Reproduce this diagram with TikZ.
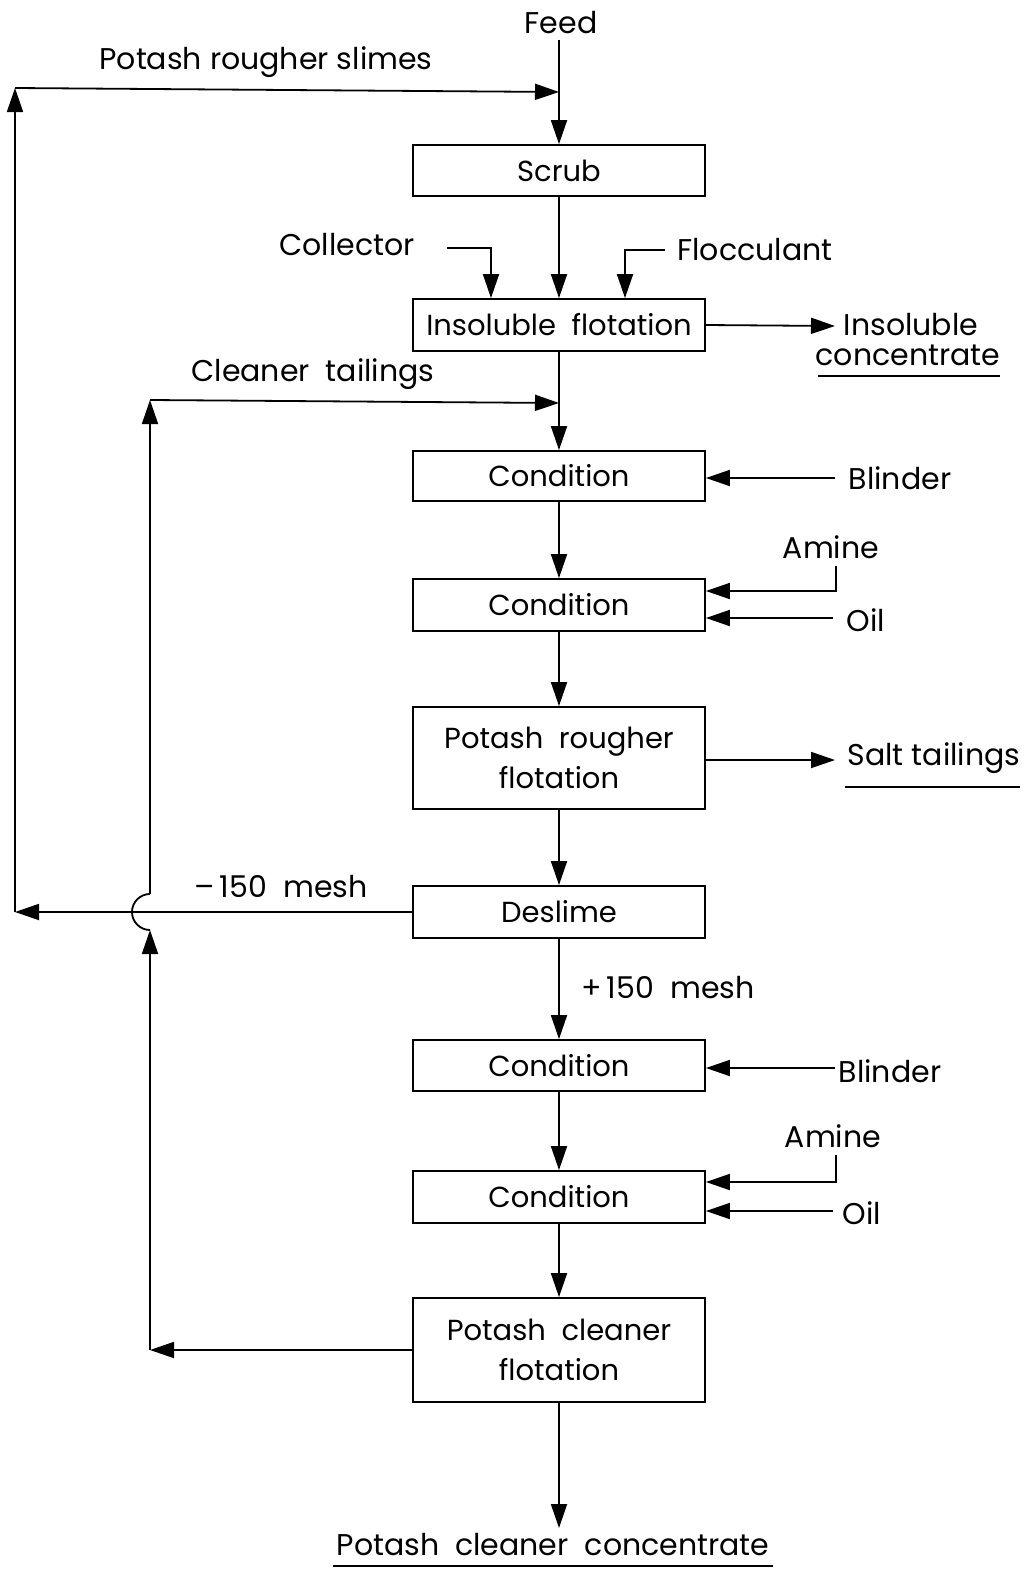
\documentclass[tikz,border=0pt]{standalone}
\usepackage{fontspec}
\setmainfont{Poppins}
\usetikzlibrary{arrows.meta}
\begin{document}
\begin{tikzpicture}[x=1pt,y=-1pt,
  line width=1.8pt,
  box/.style={draw,rectangle,minimum width=292pt,inner sep=0pt,align=center,font=\fontsize{29}{40}\selectfont},
  lbl/.style={inner sep=0pt,font=\fontsize{30}{36}\selectfont},
  arr/.style={-{Triangle[length=24pt,width=16pt]}},
]
\useasboundingbox (0,0) rectangle (1032,1569);
% boxes
\node[box,minimum height=51pt] (scrub) at (559,170.5) {Scrub};
\node[box,minimum height=52pt] (insol) at (559,325) {Insoluble\ \ flotation};
\node[box,minimum height=50pt] (cond1) at (559,476) {Condition};
\node[box,minimum height=52pt] (cond2) at (559,605) {Condition};
\node[box,minimum height=102pt] (rough) at (559,758) {Potash\ \ rougher\\flotation};
\node[box,minimum height=52pt] (deslime) at (559,912) {Deslime};
\node[box,minimum height=51pt] (cond3) at (559,1065.5) {Condition};
\node[box,minimum height=52pt] (cond4) at (559,1197) {Condition};
\node[box,minimum height=104pt] (clean) at (559,1350) {Potash\ \ cleaner\\flotation};
% labels
\node[lbl] (feed) at (561,23) {Feed};
\node[lbl] (slimes) at (266,62) {Potash\ rougher\ slimes};
\node[lbl] (coll) at (347,245) {Collector};
\node[lbl] (floc) at (755,250) {Flocculant};
\node[lbl] (insc1) at (911,325) {Insoluble};
\node[lbl] (insc2) at (908,355) {concentrate};
\node[lbl] (ctail) at (313,374) {Cleaner\ \ tailings};
\node[lbl] (blind1) at (900,478) {Blinder};
\node[lbl] (amine1) at (831,547) {Amine};
\node[lbl] (oil1) at (866,620) {Oil};
\node[lbl] (salt) at (934,758) {Salt\ tailings};
\node[lbl] (m150) at (281,887) {–\,150\ \ mesh};
\node[lbl] (p150) at (668,988) {+\,150\ \ mesh};
\node[lbl] (blind2) at (890,1071) {Blinder};
\node[lbl] (amine2) at (833,1136) {Amine};
\node[lbl] (oil2) at (862,1213) {Oil};
\node[lbl] (conc) at (553,1545) {Potash\ \ cleaner\ \ concentrate};
% coordinates
\coordinate (j1) at (559,92);
\coordinate (j2) at (559,403);
\coordinate (sl1) at (15,912);
\coordinate (sl2) at (15,88);
\coordinate (ct1) at (150,1350);
\coordinate (ctb) at (150,930);
\coordinate (ct2) at (150,400);
\coordinate (cc1) at (447,248);
\coordinate (cc2) at (491,248);
\coordinate (fc1) at (665,250);
\coordinate (fc2) at (625,250);
\coordinate (insend) at (835,326);
\coordinate (saltend) at (835,760);
\coordinate (am1a) at (836,566);
\coordinate (am1b) at (836,591);
\coordinate (oil1a) at (833,618);
\coordinate (bl1a) at (835,478);
\coordinate (bl2a) at (835,1068);
\coordinate (am2a) at (836,1155);
\coordinate (am2b) at (836,1182);
\coordinate (oil2a) at (833,1211);
\coordinate (concend) at (559,1528);
% main flow
\draw (559,40) -- (j1);
\draw[arr] (j1) -- (scrub.north);
\draw[arr] (scrub.south) -- (insol.north);
\draw (insol.south) -- (j2);
\draw[arr] (j2) -- (cond1.north);
\draw[arr] (cond1.south) -- (cond2.north);
\draw[arr] (cond2.south) -- (rough.north);
\draw[arr] (rough.south) -- (deslime.north);
\draw[arr] (deslime.south) -- (cond3.north);
\draw[arr] (cond3.south) -- (cond4.north);
\draw[arr] (cond4.south) -- (clean.north);
\draw[arr] (clean.south) -- (concend);
% reagents
\draw[arr] (cc1) -- (cc2) -- (cc2 |- insol.north);
\draw[arr] (fc1) -- (fc2) -- (fc2 |- insol.north);
\draw[arr] (insol.east) -- (insend);
\draw[arr] (bl1a) -- (bl1a -| cond1.east);
\draw[arr] (am1a) -- (am1b) -- (am1b -| cond2.east);
\draw[arr] (oil1a) -- (oil1a -| cond2.east);
\draw[arr] (rough.east |- saltend) -- (saltend);
\draw[arr] (bl2a) -- (bl2a -| cond3.east);
\draw[arr] (am2a) -- (am2b) -- (am2b -| cond4.east);
\draw[arr] (oil2a) -- (oil2a -| cond4.east);
% slimes loop
\draw[arr] (deslime.west) -- (sl1);
\draw[arr] (sl1) -- (sl2);
\draw[arr] (sl2) -- (j1);
% cleaner tailings loop
\draw[arr] (ct1 -| clean.west) -- (ct1);
\draw[arr] (ct1) -- (ctb);
\draw (ctb) arc[start angle=270,end angle=90,radius=18pt] -- (150,894);
\draw[arr] (150,894) -- (ct2);
\draw[arr] (ct2) -- (j2);
% underlines
\draw (818,376) -- (1000,376);
\draw (845,787) -- (1020,787);
\draw (333,1566) -- (773,1566);
\end{tikzpicture}
\end{document}
